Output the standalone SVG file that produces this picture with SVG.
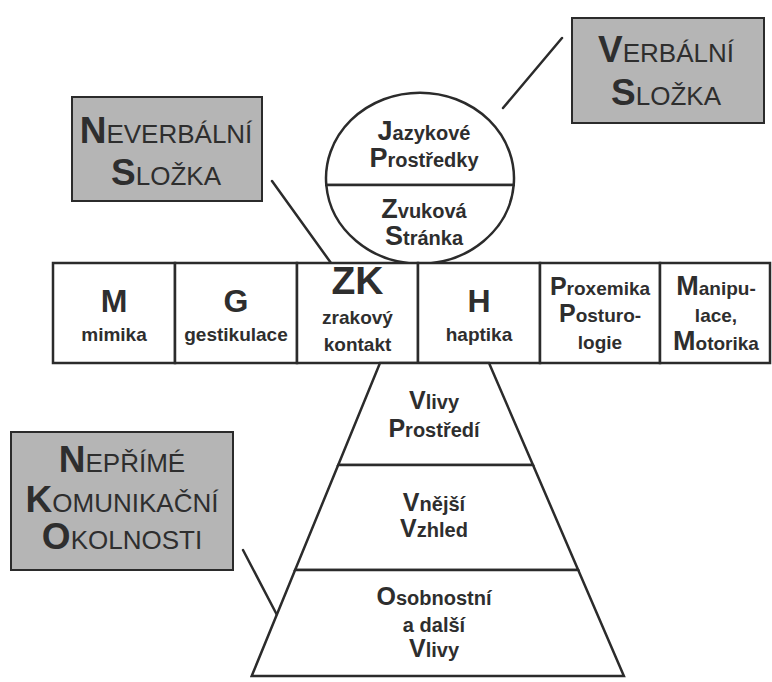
<svg xmlns="http://www.w3.org/2000/svg" width="772" height="682" viewBox="0 0 772 682">
<style>
.ln{stroke:#2b2b2b;stroke-width:2.5;fill:none;stroke-linecap:round}
.gbox{fill:#b5b5b5;stroke:#2b2b2b;stroke-width:2}
.shape{fill:#ffffff;stroke:#2b2b2b;stroke-width:2.5}
.gt{font-family:"Liberation Sans",Arial,sans-serif;font-size:26px;fill:#2e2e2e;text-anchor:middle}
.gi{font-size:37px;font-weight:bold}
.nt{font-family:"Liberation Sans",Arial,sans-serif;font-weight:bold;fill:#2e2e2e;text-anchor:middle;font-size:19px}
.c20{font-size:20px}
.i25{font-size:27px}
.i24{font-size:25px}
.i26{font-size:27px}
.big{font-size:32px}
.zk{font-size:39px}
</style>
<rect width="772" height="682" fill="#ffffff"/>

<g id="connectors">
<line class="ln" x1="562" y1="38" x2="503" y2="108"/>
<line class="ln" x1="272" y1="181" x2="331" y2="263"/>
<line class="ln" x1="243" y1="550" x2="277" y2="615"/>
</g>

<g id="verbalni-slozka">
<rect class="gbox" x="572" y="18" width="192" height="105"/>
<text class="gt" x="666" y="62"><tspan class="gi">V</tspan>ERBÁLNÍ</text>
<text class="gt" x="666" y="105"><tspan class="gi">S</tspan>LOŽKA</text>
</g>

<g id="neverbalni-slozka">
<rect class="gbox" x="72" y="97" width="190" height="104"/>
<text class="gt" x="166" y="143"><tspan class="gi">N</tspan>EVERBÁLNÍ</text>
<text class="gt" x="166" y="185"><tspan class="gi">S</tspan>LOŽKA</text>
</g>

<g id="neprime-okolnosti">
<rect class="gbox" x="11" y="432" width="222" height="138"/>
<text class="gt" x="122" y="472"><tspan class="gi">N</tspan>EPŘÍMÉ</text>
<text class="gt" x="122" y="512"><tspan class="gi">K</tspan>OMUNIKAČNÍ</text>
<text class="gt" x="122" y="549"><tspan class="gi">O</tspan>KOLNOSTI</text>
</g>

<g id="verbal-circle">
<g id="jazykove-prostredky">
<path class="shape" d="M326.3,185 A94,85.5 0 1 1 513.7,185 Z"/>
<text class="nt c20" x="424" y="140"><tspan class="i25">J</tspan>azykové</text>
<text class="nt c20" x="424" y="167"><tspan class="i25">P</tspan>rostředky</text>
</g>
<g id="zvukova-stranka">
<path class="shape" d="M326.3,185 A94,85.5 0 0 0 513.7,185 Z"/>
<text class="nt c20" x="424" y="218"><tspan class="i25">Z</tspan>vuková</text>
<text class="nt c20" x="424" y="245"><tspan class="i25">S</tspan>tránka</text>
</g>
</g>

<g id="cell-mimika">
<rect class="shape" x="53" y="263" width="122" height="100"/>
<text class="nt big" x="114" y="312">M</text>
<text class="nt" x="114" y="341">mimika</text>
</g>
<g id="cell-gestikulace">
<rect class="shape" x="175" y="263" width="122" height="100"/>
<text class="nt big" x="236" y="312">G</text>
<text class="nt" x="236" y="341">gestikulace</text>
</g>
<g id="cell-zrakovy-kontakt">
<rect class="shape" x="297" y="263" width="121" height="100"/>
<text class="nt zk" x="357.5" y="294">ZK</text>
<text class="nt" x="357.5" y="324">zrakový</text>
<text class="nt" x="357.5" y="351">kontakt</text>
</g>
<g id="cell-haptika">
<rect class="shape" x="418" y="263" width="122" height="100"/>
<text class="nt big" x="479" y="312">H</text>
<text class="nt" x="479" y="341">haptika</text>
</g>
<g id="cell-proxemika">
<rect class="shape" x="540" y="263" width="120" height="100"/>
<text class="nt" x="600" y="295"><tspan class="i24">P</tspan>roxemika</text>
<text class="nt" x="600" y="322"><tspan class="i24">P</tspan>osturo-</text>
<text class="nt" x="600" y="349">logie</text>
</g>
<g id="cell-manipulace">
<rect class="shape" x="660" y="263" width="110" height="100"/>
<text class="nt" x="716" y="295"><tspan class="i26">M</tspan>anipu-</text>
<text class="nt" x="716" y="322">lace,</text>
<text class="nt" x="716" y="350"><tspan class="i26">M</tspan>otorika</text>
</g>

<g id="vlivy-prostredi">
<polygon class="shape" points="380,363 489,363 533,465 338.2,465"/>
<text class="nt c20" x="434" y="409"><tspan class="i24">V</tspan>livy</text>
<text class="nt c20" x="434" y="437"><tspan class="i24">P</tspan>rostředí</text>
</g>
<g id="vnejsi-vzhled">
<polygon class="shape" points="338.2,465 533,465 578.2,570 295.1,570"/>
<text class="nt c20" x="434" y="511"><tspan class="i24">V</tspan>nější</text>
<text class="nt c20" x="434" y="537"><tspan class="i24">V</tspan>zhled</text>
</g>
<g id="osobnostni-vlivy">
<polygon class="shape" points="295.1,570 578.2,570 623.9,676 251.7,676"/>
<text class="nt c20" x="434" y="605"><tspan class="i24">O</tspan>sobnostní</text>
<text class="nt c20" x="434" y="632">a další</text>
<text class="nt c20" x="434" y="657"><tspan class="i24">V</tspan>livy</text>
</g>
</svg>
